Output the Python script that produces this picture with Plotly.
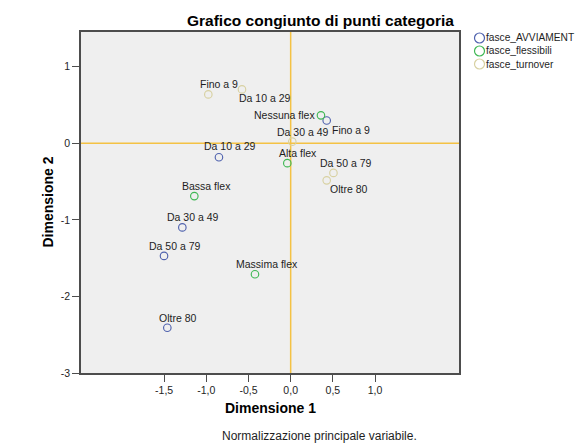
import plotly.graph_objects as go

# ---- data ----
avv_labels = ["Fino a 9", "Da 10 a 29", "Da 30 a 49", "Da 50 a 79", "Oltre 80"]
avv_x = [0.427, -0.850, -1.284, -1.501, -1.462]
avv_y = [0.297, -0.182, -1.099, -1.471, -2.409]

flex_labels = ["Nessuna flex", "Alta flex", "Bassa flex", "Massima flex"]
flex_x = [0.359, -0.040, -1.142, -0.423]
flex_y = [0.365, -0.260, -0.690, -1.711]

turn_labels = ["Fino a 9", "Da 10 a 29", "Da 30 a 49", "Da 50 a 79", "Oltre 80"]
turn_x = [-0.976, -0.577, 0.019, 0.507, 0.427]
turn_y = [0.638, 0.703, 0.021, -0.387, -0.484]

# legend names as visible in the reference (first one is cut at the image edge there)
series_names = ["fasce_AVVIAMENT", "fasce_flessibili", "fasce_turnover"]

x_tickvals = [-1.5, -1.0, -0.5, 0.0, 0.5, 1.0]
x_ticktext = ["-1,5", "-1,0", "-0,5", "0,0", "0,5", "1,0"]
y_tickvals = [-3, -2, -1, 0, 1]
y_ticktext = ["-3", "-2", "-1", "0", "1"]

# ---- styles / positions ----
colors = ["#4f62ae", "#3fb854", "#d8d1a2"]
FONT = "Liberation Sans, Arial, sans-serif"
W, H = 583, 448
L, R, T, B = 81, 459, 32, 373

# label offsets (xshift, yshift, xanchor) per point
avv_off = [(24, -9, "center"), (11, 11, "center"), (11, 10, "center"), (11, 10, "center"), (11, 10, "center")]
flex_off = [(-4, 0, "right"), (11, 10, "center"), (12, 10, "center"), (12, 10, "center")]
turn_off = [(11, 10, "center"), (23, -9, "center"), (11, 10, "center"), (13, 10, "center"), (22, -9, "center")]

def px_x(px):
    return (px - L) / (R - L)

def px_y(py):
    return (B - py) / (B - T)

fig = go.Figure()
annotations = []
series = [
    (avv_x, avv_y, avv_labels, avv_off),
    (flex_x, flex_y, flex_labels, flex_off),
    (turn_x, turn_y, turn_labels, turn_off),
]
for i, (xs, ys, labs, offs) in enumerate(series):
    fig.add_trace(go.Scatter(
        x=xs, y=ys, mode="markers", name=series_names[i], showlegend=False,
        marker=dict(symbol="circle-open", size=7.5, color=colors[i], line=dict(width=1.15, color=colors[i])),
        hoverinfo="skip",
    ))
    for xv, yv, lab, (dx, dy, anc) in zip(xs, ys, labs, offs):
        annotations.append(dict(
            x=xv, y=yv, xref="x", yref="y", text=lab, showarrow=False,
            xshift=dx, yshift=dy, xanchor=anc, yanchor="middle",
            font=dict(family=FONT, size=10.5, color="#1e1e1e"),
        ))

shapes = [
    dict(type="line", xref="x", yref="paper", x0=0, x1=0, y0=0, y1=1,
         line=dict(color="#f4c244", width=1.5), layer="below"),
    dict(type="line", xref="paper", yref="y", x0=0, x1=1, y0=0, y1=0,
         line=dict(color="#f4c244", width=1.5), layer="below"),
]

# manual legend
leg_rows = [38, 51, 64]
for i, name in enumerate(series_names):
    shapes.append(dict(
        type="circle", xref="paper", yref="paper",
        xsizemode="pixel", ysizemode="pixel",
        xanchor=px_x(479.5), yanchor=px_y(leg_rows[i]),
        x0=-5, x1=5, y0=-5, y1=5,
        line=dict(color=colors[i], width=1.2), fillcolor="rgba(0,0,0,0)",
    ))
    annotations.append(dict(
        x=px_x(484), y=px_y(leg_rows[i]), xref="paper", yref="paper",
        text=name, showarrow=False, xanchor="left", yanchor="middle",
        font=dict(family=FONT, size=10.2, color="#1e1e1e"),
    ))

# titles and note
annotations += [
    dict(x=px_x(320), y=px_y(20), xref="paper", yref="paper",
         text="<b>Grafico congiunto di punti categoria</b>", showarrow=False,
         xanchor="center", yanchor="middle", font=dict(family=FONT, size=15.5, color="#000")),
    dict(x=0.5, y=px_y(408), xref="paper", yref="paper",
         text="<b>Dimensione 1</b>", showarrow=False,
         xanchor="center", yanchor="middle", font=dict(family=FONT, size=14, color="#000")),
    dict(x=px_x(47), y=0.5, xref="paper", yref="paper",
         text="<b>Dimensione 2</b>", showarrow=False, textangle=-90,
         xanchor="center", yanchor="middle", font=dict(family=FONT, size=14, color="#000")),
    dict(x=px_x(319), y=px_y(436), xref="paper", yref="paper",
         text="Normalizzazione principale variabile.", showarrow=False,
         xanchor="center", yanchor="middle", font=dict(family=FONT, size=12, color="#1e1e1e")),
]

fig.update_layout(
    width=W, height=H,
    margin=dict(l=L, r=W - R, t=T, b=H - B, pad=0),
    paper_bgcolor="white", plot_bgcolor="#efefef",
    showlegend=False,
    shapes=shapes, annotations=annotations,
    font=dict(family=FONT, size=10.5, color="#1e1e1e"),
)
fig.update_xaxes(
    range=[-2.485, 1.995], tickvals=x_tickvals, ticktext=x_ticktext,
    showgrid=False, zeroline=False, showline=True, mirror=True,
    linecolor="#4d4d4d", linewidth=1.5, ticks="outside", ticklen=7,
    tickcolor="#4d4d4d", tickwidth=1.2, tickfont=dict(family=FONT, size=10.5, color="#1e1e1e"),
)
fig.update_yaxes(
    range=[-3.0, 1.453], tickvals=y_tickvals, ticktext=y_ticktext,
    showgrid=False, zeroline=False, showline=True, mirror=True,
    linecolor="#4d4d4d", linewidth=1.5, ticks="outside", ticklen=7,
    tickcolor="#4d4d4d", tickwidth=1.2, tickfont=dict(family=FONT, size=10.5, color="#1e1e1e"),
)

fig.write_html(
    "out.html",
    config={"displayModeBar": False},
    post_script="document.body.style.margin='0';document.body.style.overflow='hidden';",
)
